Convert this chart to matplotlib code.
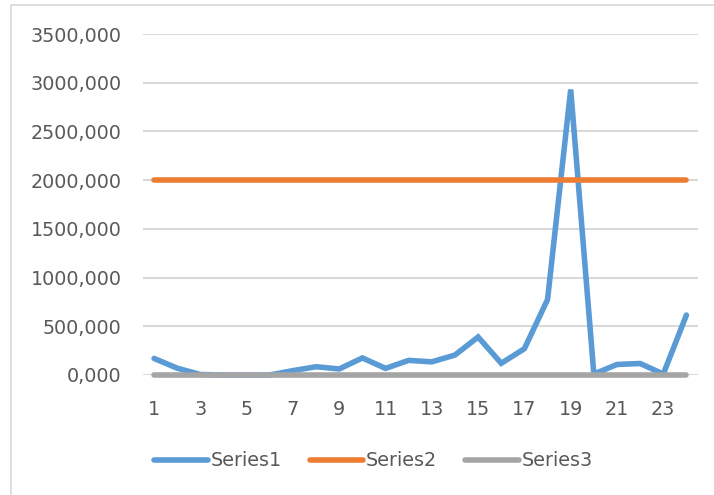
import matplotlib
matplotlib.use('Agg')
import matplotlib.pyplot as plt
from matplotlib.patches import Rectangle

# data
x = list(range(1, 25))
series1 = [170, 70, 5, 0, 0, 0, 45, 85, 62, 175, 68, 150, 135, 205,
           390, 120, 270, 775, 2930, 10, 108, 118, 10, 615]
series2 = [2000] * 24
series3 = [0] * 24
yticks = [0, 500, 1000, 1500, 2000, 2500, 3000, 3500]
xticks = list(range(1, 24, 2))

plt.rcParams['font.family'] = ['DejaVu Sans']
txt = '#595959'

fig = plt.figure(figsize=(7.14, 4.95), dpi=100)
ax = fig.add_axes([142.5/714, 1-375/495, (698-142.5)/714, (375-34)/495])

# chart area border (only left/top visible in reference)
fig.patches.append(Rectangle((11/714, -0.1), 1.2, 1.1-5/495, transform=fig.transFigure,
                             fill=False, edgecolor='#d9d9d9', lw=1.2))

for v in yticks:
    ax.axhline(v, color='#d9d9d9', lw=1.5, zorder=0)

# later series on top, like excel
ax.plot(x, series1, c='#5b9bd5', lw=4, solid_capstyle='round', solid_joinstyle='miter',
        label='Series1', zorder=2, clip_on=False)
ax.plot(x, series2, c='#ed7d31', lw=4, solid_capstyle='round', label='Series2', zorder=3, clip_on=False)
ax.plot(x, series3, c='#a5a5a5', lw=4, solid_capstyle='round', label='Series3', zorder=4, clip_on=False)

ax.set_xlim(0.5, 24.5)
ax.set_ylim(0, 3500)
ax.set_yticks(yticks)
ax.set_yticklabels(['%d,000' % v for v in yticks])
ax.set_xticks(xticks)
ax.tick_params(axis='both', length=0, labelsize=13.8, labelcolor=txt)
ax.tick_params(axis='x', pad=18)
ax.tick_params(axis='y', pad=15)
for s in ax.spines.values():
    s.set_visible(False)

leg = fig.legend(loc='center', bbox_to_anchor=(0.523, 0.069), ncol=3, frameon=False,
                 fontsize=13.8, handlelength=2.8, handletextpad=0.15, columnspacing=1.45,
                 labelcolor=txt)

fig.savefig('out.png', dpi=100)
